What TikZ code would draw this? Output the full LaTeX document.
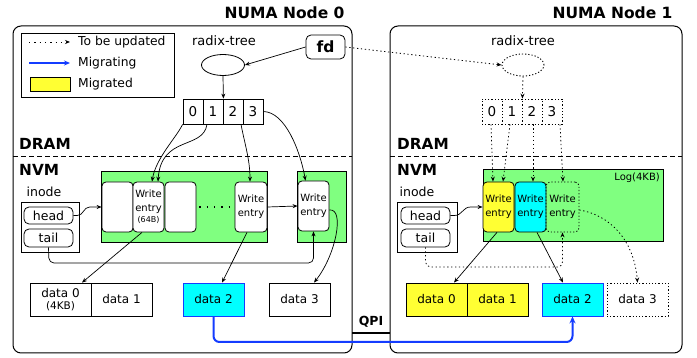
\documentclass[tikz,border=0pt]{standalone}
\usepackage{fontspec}
\setmainfont{DejaVu Sans}
\usetikzlibrary{shapes.geometric,arrows.meta,calc}
\definecolor{lgreen}{RGB}{128,255,128}
\definecolor{myyellow}{RGB}{255,255,51}
\definecolor{mycyan}{RGB}{0,255,255}
\definecolor{myblue}{RGB}{20,60,255}
\tikzset{
  fs/.style={font=\fontsize{#1}{#1}\selectfont},
  numa/.style={draw, rounded corners=8pt, line width=1pt},
  ttl/.style={font=\fontsize{15.5}{18}\selectfont\bfseries},
  lbl/.style={font=\fontsize{15.3}{18}\selectfont\bfseries, anchor=west, inner sep=0},
  greenbox/.style={draw, fill=lgreen, line width=0.9pt},
  cell/.style={draw, minimum width=20pt, minimum height=25pt, inner sep=0, line width=0.8pt, font=\fontsize{13.5}{14}\selectfont},
  dcell/.style={cell, dash pattern=on 1.2pt off 2pt},
  entrybox/.style={draw, fill=white, rounded corners=4pt, minimum width=31pt, minimum height=50pt, inner sep=0, line width=0.8pt, align=center, font=\fontsize{10}{14}\selectfont},
  databox/.style={draw, fill=white, minimum width=61pt, minimum height=33pt, inner sep=0, line width=0.8pt, font=\fontsize{12}{14}\selectfont, align=center},
  ptr/.style={draw, rounded corners=5pt, minimum width=49pt, minimum height=17pt, inner sep=0, line width=0.8pt, font=\fontsize{12.5}{13}\selectfont},
  arr/.style={-{Stealth[length=5pt,width=4pt]}, line width=0.7pt},
  darr/.style={arr, line width=0.8pt, dash pattern=on 1.3pt off 2.6pt},
  dotted border/.style={dash pattern=on 1.2pt off 2pt},
}
\begin{document}
\begin{tikzpicture}[x=1pt,y=-1pt]
\useasboundingbox (0,0) rectangle (697,358);

% ---------- Node 0 ----------
\node[ttl, anchor=east] (title0) at (348,13) {NUMA Node 0};
\draw[numa] (13,26) rectangle (352,353);

% legend
\draw[line width=0.8pt] (21,33) rectangle (174,97);
\coordinate (lg1a) at (29,42); \coordinate (lg1b) at (70,42);
\draw[arr, line width=0.8pt, dash pattern=on 1.3pt off 4pt] (lg1a) -- (lg1b);
\node[anchor=west, inner sep=0, fs=12.3] (lgt1) at (78,42) {To be updated};
\coordinate (lg2a) at (29,63); \coordinate (lg2b) at (70,63);
\draw[-{Stealth[length=6pt,width=5pt]}, line width=2pt, myblue] (lg2a) -- (lg2b);
\node[anchor=west, inner sep=0, fs=12.3] (lgt2) at (78,63) {Migrating};
\node[draw, fill=myyellow, minimum width=40pt, minimum height=14pt, inner sep=0, line width=0.8pt] (lgbox) at (50,84) {};
\node[anchor=west, inner sep=0, fs=12.3] (lgt3) at (78,84) {Migrated};

\node[fs=13] (rt0) at (224,41) {radix-tree};
\node[draw, ellipse, minimum width=43pt, minimum height=21pt, inner sep=0, line width=0.8pt] (ell0) at (223,65) {};
\node[draw, rounded corners=5pt, minimum width=39pt, minimum height=24pt, inner sep=0, line width=0.8pt, font=\fontsize{15.5}{16}\selectfont\bfseries] (fd) at (325.5,47) {fd};

\node[cell] (c00) at (193,111.5) {0};
\node[cell] (c01) at (213,111.5) {1};
\node[cell] (c02) at (233,111.5) {2};
\node[cell] (c03) at (253,111.5) {3};

\node[lbl] (dram0) at (19,144) {DRAM};
\draw[dash pattern=on 5pt off 3pt, line width=0.8pt] (13,156) -- (352,156);
\node[lbl] (nvm0) at (19,170) {NVM};

\draw[greenbox] (101,171) rectangle (267,242);
\draw[greenbox] (297,171) rectangle (346,242);
\node[entrybox] (e01) at (117.5,207) {};
\node[entrybox] (e02) at (148.5,207) {Write\\entry\\[-3pt]{\fontsize{8}{10}\selectfont(64B)}};
\node[entrybox] (e03) at (180.5,207) {};
\node[entrybox, minimum width=32pt] (e04) at (251,207) {Write\\entry};
\node[entrybox] (e05) at (313.5,206) {Write\\entry};
\draw[line width=1.3pt, dash pattern=on 1.3pt off 6pt] ($(e03.east)+(3,0)$) -- ($(e04.west)+(-2,0)$);

\node[fs=12.5] (inode0) at (44,192) {inode};
\draw[line width=0.8pt] (21,202) rectangle (79,252);
\node[ptr] (head0) at (48.5,215.5) {head};
\node[ptr, minimum height=18pt] (tail0) at (48.5,238) {tail};

\node[databox] (d00) at (60.5,299.5) {data 0\\[-2pt]{\fontsize{10.5}{12}\selectfont(4KB)}};
\node[databox] (d01) at (121.5,299.5) {data 1};
\node[databox, fill=mycyan, draw=myblue] (d02) at (213.5,299.5) {data 2};
\node[databox] (d03) at (299.5,299.5) {data 3};

% arrows node 0
\draw[arr] (fd.west) -- (ell0.east);
\draw[arr] (ell0.south) -- (c01.north east);
\draw[arr] (c00.south west) .. controls (176,138) and (156,158) .. ($(e02.north)+(3.5,0)$);
\draw[arr] ($(c01.south)+(-6,0)$) .. controls (203,150) and (161,135) .. ($(e02.north)+(9.5,0)$);
\draw[arr] ($(c02.south)+(8,0)$) .. controls (245,145) and (250,160) .. ($(e04.north)+(-1,0)$);
\draw[arr] (c03.east) .. controls (285,112) and (300,150) .. ($(e05.north)+(-8,0)$);
\draw[arr] (head0.east) -- ++(4,0) .. controls +(6,0) and +(-6,0) .. ($(e01.west)+(-12,0)$) -- (e01.west);
\draw[arr, rounded corners=5pt] (tail0.south) -- (49,263) -- (313.5,263) -- (e05.south);
\draw[arr] ($(e02.south)+(-6.5,0)$) -- ($(d00.north)+(21.5,0)$);
\draw[arr] ($(e04.south)+(-4,0)$) -- ($(d02.north)+(8.5,0)$);
\draw[arr] (e04.east) -- (e05.west);
\draw[arr] ($(e05.east)+(0,4)$) .. controls (345,208) and (336,255) .. ($(d03.north)+(14.5,0)$);

% ---------- Node 1 ----------
\node[ttl, anchor=east] (title1) at (676,13) {NUMA Node 1};
\draw[numa] (390,26) rectangle (682,353);

\node[fs=13] (rt1) at (523,41) {radix-tree};
\node[draw, ellipse, dotted border, line width=0.9pt, minimum width=42pt, minimum height=22pt, inner sep=0] (ell1) at (523,65) {};

\node[dcell] (c10) at (492,111.5) {0};
\node[dcell] (c11) at (512,111.5) {1};
\node[dcell] (c12) at (532,111.5) {2};
\node[dcell] (c13) at (552,111.5) {3};

\node[lbl] (dram1) at (397,144) {DRAM};
\draw[dash pattern=on 5pt off 3pt, line width=0.8pt] (390,156) -- (682,156);
\node[lbl] (nvm1) at (397,170) {NVM};

\draw[greenbox] (483,169) rectangle (663,241);
\node[anchor=east, inner sep=0, fs=10] (log1) at (660,178) {Log(4KB)};
\node[entrybox, fill=myyellow] (e11) at (498.5,207) {Write\\entry};
\node[entrybox, fill=mycyan] (e12) at (530.5,207) {Write\\entry};
\node[entrybox, fill=none, dotted border, minimum width=33pt] (e13) at (562.5,207) {Write\\entry};

\node[fs=12.5] (inode1) at (417,192) {inode};
\draw[line width=0.8pt] (397,202) rectangle (457,252);
\node[ptr] (head1) at (425.5,215.5) {head};
\node[ptr, minimum height=18pt] (tail1) at (425.5,238) {tail};

\node[databox, fill=myyellow] (d10) at (436.5,299.5) {data 0};
\node[databox, fill=myyellow] (d11) at (497.5,299.5) {data 1};
\node[databox, fill=mycyan, draw=myblue] (d12) at (572.5,299.5) {data 2};
\node[databox, dotted border] (d13) at (637.5,299.5) {data 3};

% arrows node 1
\draw[darr] (fd.east) -- (ell1.west);
\draw[darr] (ell1.south) -- (c11.north east);
\draw[darr] ($(c10.south)+(-1,0)$) -- ($(e11.north)+(-5.5,0)$);
\draw[darr] ($(c11.south)+(-2,0)$) -- ($(e11.north)+(4.5,0)$);
\draw[darr] ($(c12.south)+(1,0)$) -- ($(e12.north)+(2.5,0)$);
\draw[darr] ($(c13.south)+(8,0)$) -- ($(e13.north)+(0.5,0)$);
\draw[arr] (head1.east) -- ++(4,0) .. controls +(8,0) and +(-8,0) .. ($(e11.west)+(-12,0)$) -- (e11.west);
\draw[darr, rounded corners=5pt] (tail1.south) -- (425.5,267) -- (562.5,267) -- (e13.south);
\draw[arr] ($(e11.south)+(-1.5,0)$) -- ($(d10.north)+(17.5,0)$);
\draw[arr] ($(e12.south)+(6.5,0)$) -- ($(d12.north)+(-9.5,0)$);
\draw[darr] ($(e13.east)+(0,3)$) .. controls (610,215) and (634,240) .. (d13.north);

% ---------- QPI ----------
\coordinate (q0) at (352,333);
\coordinate (q1) at (390,333);
\draw[line width=1.6pt] (q0) -- (q1);
\node[font=\fontsize{12.5}{13}\selectfont\bfseries] (qpi) at (371,322) {QPI};
\draw[-{Stealth[length=7pt,width=6pt]}, line width=2pt, myblue, rounded corners=6pt] (d02.south) -- (213.5,342) -- (572.5,342) -- (d12.south);
\end{tikzpicture}
\end{document}
